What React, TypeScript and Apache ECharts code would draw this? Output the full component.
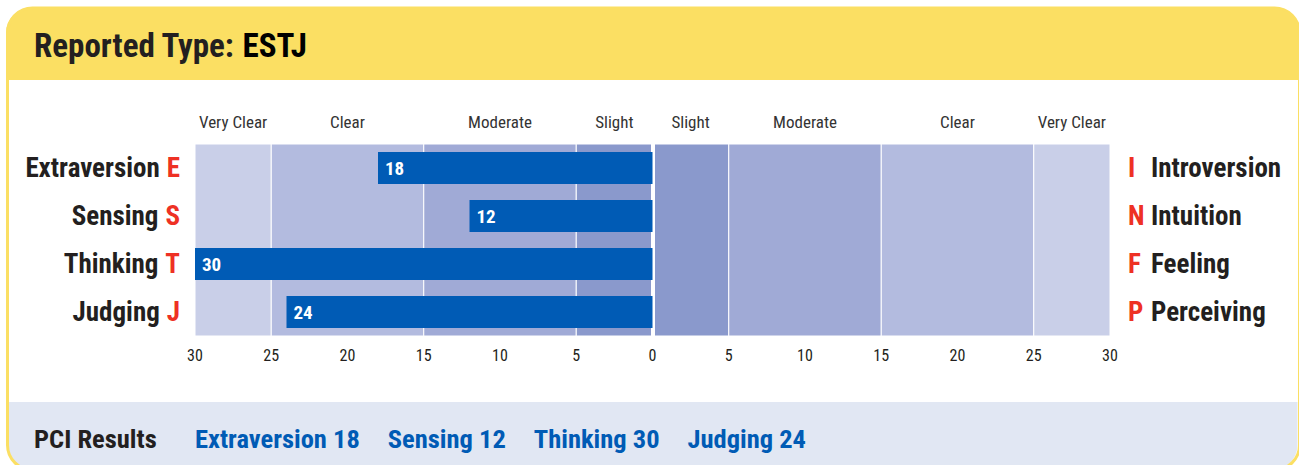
import React, { useEffect, useRef } from "react";
import * as echarts from "echarts";

// ---- data ----
const categories = ["Extraversion", "Sensing", "Thinking", "Judging"];
const leftLetters = ["E", "S", "T", "J"];
const rightLetters = ["I", "N", "F", "P"];
const rightNames = ["Introversion", "Intuition", "Feeling", "Perceiving"];
const scores = [18, 12, 30, 24];
const reportedType = "ESTJ";
const zoneNames = ["Very Clear", "Clear", "Moderate", "Slight", "Slight", "Moderate", "Clear", "Very Clear"];
const zoneEdges = [-30, -25, -15, -5, 0, 5, 15, 25, 30];
const zoneColors = ["#c9cfe8", "#b3bbdf", "#a0aad6", "#8a99cc", "#8a99cc", "#a0aad6", "#b3bbdf", "#c9cfe8"];

const FONT = "'Roboto Condensed', 'Liberation Sans Narrow', 'DejaVu Sans Condensed', sans-serif";
const DARK = "#231f20";
const RED = "#ee3124";
const BLUE = "#005bb5";

export default function App() {
  const ref = useRef<HTMLDivElement>(null);
  useEffect(() => {
    if (!ref.current) return;
    const chart = echarts.init(ref.current, null, { renderer: "svg" });

    const areaData = zoneNames.map((name, i) => [
      {
        name,
        xAxis: zoneEdges[i],
        yAxis: "min",
        itemStyle: { color: zoneColors[i] },
      },
      { xAxis: zoneEdges[i + 1], yAxis: "max" },
    ]);

    const results = categories.map((c, i) => ({ c, v: scores[i] }));

    const bottomRich: any = {
      h: { fontFamily: FONT, fontWeight: "bold", fontSize: 26.5, fill: DARK, width: 161 },
      v: { fontFamily: FONT, fontWeight: "bold", fontSize: 26.5, fill: BLUE, padding: [0, 28, 0, 0] },
    };
    const bottomText =
      "{h|PCI Results}" + results.map((r) => `{v|${r.c} ${r.v}}`).join("");

    chart.setOption({
      animation: false,
      textStyle: { fontFamily: FONT },
      graphic: [
        {
          type: "rect",
          shape: { x: 7.5, y: 8, width: 1290, height: 462, r: 25 },
          style: { fill: "#ffffff" },
          z: -10,
        },
        {
          type: "rect",
          shape: { x: 6, y: 8, width: 1293, height: 72, r: [25, 25, 0, 0] },
          style: { fill: "#fbdf63" },
          z: -9,
        },
        {
          type: "rect",
          shape: { x: 7.5, y: 402, width: 1290, height: 68, r: [0, 0, 25, 25] },
          style: { fill: "#e1e7f3" },
          z: -9,
        },
        {
          type: "rect",
          shape: { x: 7.5, y: 8, width: 1292, height: 462, r: 25 },
          style: { fill: "none", stroke: "#fbdf63", lineWidth: 3 },
          z: -8,
        },
        {
          type: "text",
          x: 34,
          y: 45,
          style: {
            text: `{a|Reported Type: }{b|${reportedType}}`,
            verticalAlign: "middle",
            rich: {
              a: { fontFamily: FONT, fontWeight: "bold", fontSize: 33, fill: DARK },
              b: { fontFamily: FONT, fontWeight: "bold", fontSize: 33, fill: "#000000" },
            },
          },
        },
        {
          type: "text",
          x: 34,
          y: 438,
          style: {
            text: bottomText,
            verticalAlign: "middle",
            rich: bottomRich,
          },
        },
      ],
      grid: { left: 195, right: 189, top: 144, height: 192, containLabel: false, outerBoundsMode: "none" },
      xAxis: {
        type: "value",
        min: -30,
        max: 30,
        interval: 5,
        splitLine: { show: false },
        axisLine: { show: false },
        axisTick: { show: false },
        axisLabel: {
          formatter: (v: number) => String(Math.abs(v)),
          margin: 11,
          color: DARK,
          fontSize: 16,
          fontFamily: FONT,
        },
      },
      yAxis: [
        {
          type: "category",
          data: categories,
          inverse: true,
          position: "left",
          axisLine: { show: false },
          axisTick: { show: false },
          splitLine: { show: false },
          axisLabel: {
            margin: 15,
            formatter: (v: string, i: number) => `{n|${v}}{r|${leftLetters[i]}}`,
            rich: {
              n: { fontFamily: FONT, fontWeight: "bold", fontSize: 27, color: DARK },
              r: { fontFamily: FONT, fontWeight: "bold", fontSize: 27, color: RED, padding: [0, 0, 0, 7] },
            },
          },
        },
        {
          type: "category",
          data: categories,
          inverse: true,
          position: "right",
          axisLine: { show: false },
          axisTick: { show: false },
          splitLine: { show: false },
          axisLabel: {
            margin: 18,
            align: "left",
            formatter: (_v: string, i: number) => `{r|${rightLetters[i]}}{n|${rightNames[i]}}`,
            rich: {
              n: { fontFamily: FONT, fontWeight: "bold", fontSize: 27, color: DARK },
              r: { fontFamily: FONT, fontWeight: "bold", fontSize: 27, color: RED, width: 23 },
            },
          },
        },
      ],
      series: [
        {
          type: "bar",
          yAxisIndex: 0,
          data: scores.map((s) => -s),
          barWidth: 32,
          itemStyle: { color: BLUE },
          z: 3,
          label: {
            show: true,
            position: "insideLeft",
            distance: 7,
            formatter: (p: any) => String(Math.abs(p.value)),
            color: "#ffffff",
            fontWeight: "bold",
            fontSize: 19,
            fontFamily: FONT,
          },
          markArea: {
            silent: true,
            z: 1,
            itemStyle: { borderColor: "#ffffff", borderWidth: 1 },
            label: {
              show: true,
              position: "top",
              distance: 13,
              color: "#333333",
              fontSize: 17,
              fontFamily: FONT,
            },
            data: areaData,
          },
          markLine: {
            silent: true,
            z: 2,
            symbol: "none",
            label: { show: false },
            lineStyle: { color: "#ffffff", width: 4, type: "solid" },
            data: [{ xAxis: 0 }],
          },
        },
      ],
    });
    return () => chart.dispose();
  }, []);
  return (
    <div
      ref={ref}
      style={{ position: "absolute", left: 0, top: 0, width: 1299, height: 465 }}
    />
  );
}
